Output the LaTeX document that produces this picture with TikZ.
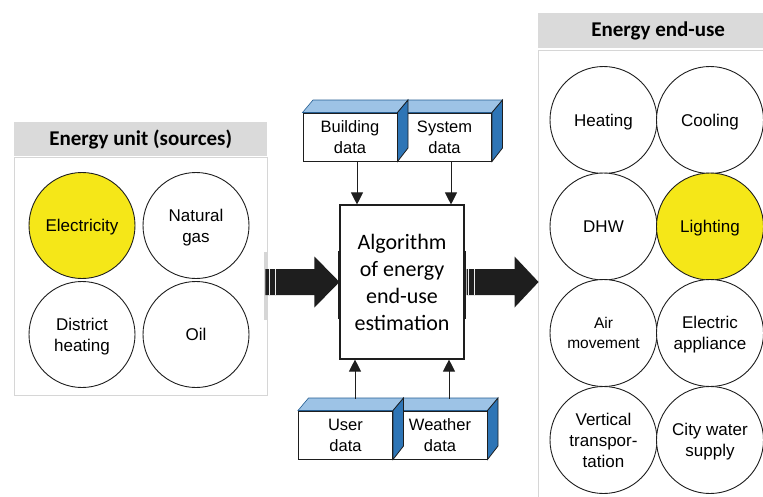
\documentclass[tikz,border=0pt]{standalone}
\usepackage{fontspec}
\setmainfont{Liberation Sans}
\newfontfamily\calib{Carlito}
\usetikzlibrary{arrows.meta,calc}
\definecolor{hdrgray}{RGB}{218,218,218}
\definecolor{rimgray}{RGB}{214,214,214}
\definecolor{hiyellow}{RGB}{245,231,24}
\definecolor{topblue}{RGB}{157,195,230}
\definecolor{sideblue}{RGB}{46,117,182}
\definecolor{inkblack}{RGB}{30,30,30}

% top and right faces of a 3-D data block
\newcommand\boxfaces[1]{%
  \filldraw[topface] (#1.north west) -- ++(10.5,-12.5) -- ($(#1.north east)+(10.5,-12.5)$) -- (#1.north east) -- cycle;
  \filldraw[sideface] (#1.north east) -- ++(10.5,-12.5) -- ++(0,48) -- (#1.south east) -- cycle;
}

\begin{document}
\begin{tikzpicture}[x=1pt,y=-1pt,
  unit/.style={circle,draw=inkblack,line width=0.9pt,fill=white,minimum size=106,inner sep=0pt,
    text depth=-1.5pt,align=center,font=\fontsize{17}{21}\selectfont},
  hot/.style={fill=hiyellow},
  hdr/.style={fill=hdrgray,anchor=north west,inner sep=0pt,font=\calib\bfseries\fontsize{21}{24}\selectfont},
  panel/.style={draw=rimgray,line width=1pt,fill=white,anchor=north west,inner sep=0pt},
  algbox/.style={draw=inkblack,line width=1.1pt,fill=white,minimum width=124,minimum height=154,
    align=center,inner sep=0pt,font=\calib\fontsize{22}{27}\selectfont},
  dbox/.style={draw=inkblack,line width=1pt,fill=white,minimum width=94,minimum height=48,inner sep=0pt,
    align=center,font=\fontsize{16.5}{21}\selectfont},
  topface/.style={fill=topblue,draw=sideblue!80!black,line width=0.6pt},
  sideface/.style={fill=sideblue,draw=inkblack,line width=0.8pt},
  arr/.style={draw=inkblack,line width=0.9pt,-{Triangle[length=12pt,width=12pt]}},
  fat/.style={fill=inkblack},
  stripe/.style={draw=white!85!gray,line width=1.2pt}
]
\useasboundingbox (0,0) rectangle (763,496);

% left panel: energy sources
\node[hdr,minimum width=253,minimum height=34] (srchdr) at (14,122) {Energy unit (sources)};
\node[panel,minimum width=253,minimum height=238] (srcpanel) at (14,157) {};
\node[unit,hot] (elec) at (82,225.5) {Electricity};
\node[unit] (gas) at (196,225.5) {Natural\\gas};
\node[unit] (dist) at (82,334.5) {District\\heating};
\node[unit] (oil) at (196,334.5) {Oil};

% right panel: end uses
\node[hdr,minimum width=240,minimum height=35] (usehdr) at (538,13) {Energy end-use};
\node[panel,minimum width=240,minimum height=460] (usepanel) at (538,50) {};
\node[unit,minimum size=107] (heat) at (603.5,120) {Heating};
\node[unit,minimum size=107] (cool) at (710,120) {Cooling};
\node[unit,minimum size=107] (dhw) at (603.5,226.5) {DHW};
\node[unit,minimum size=107,hot] (light) at (710,226.5) {Lighting};
\node[unit,minimum size=107,font=\fontsize{15.5}{20}\selectfont] (air) at (603.5,333) {Air\\movement};
\node[unit,minimum size=107] (appl) at (710,333) {Electric\\appliance};
\node[unit,minimum size=107] (vert) at (603.5,440) {Vertical\\transpor-\\tation};
\node[unit,minimum size=107] (water) at (710,440) {City water\\supply};

% central algorithm block
\node[algbox] (alg) at (402,282) {Algorithm\\of energy\\end-use\\estimation};
\draw[line width=3pt,inkblack] ($(alg.north west)+(0,47)$) -- ++(0,68);
\draw[line width=3pt,inkblack] ($(alg.north east)+(0,47)$) -- ++(0,68);

% fat flow arrows
\fill[rimgray] (264,252) rectangle (268,320);
\fill[fat] ($(alg.west)+(-74,-13)$) -- ($(alg.west)+(-25,-13)$) -- ($(alg.west)+(-25,-25.5)$) -- (alg.west)
  -- ($(alg.west)+(-25,25.5)$) -- ($(alg.west)+(-25,13)$) -- ($(alg.west)+(-74,13)$) -- cycle;
\draw[stripe] ($(alg.west)+(-70,-13)$) -- ++(0,26);
\draw[stripe] ($(alg.west)+(-64,-13)$) -- ++(0,26);
\fill[fat] ($(alg.east)+(2,-13)$) -- ($(alg.east)+(50,-13)$) -- ($(alg.east)+(50,-25.5)$) -- ($(alg.east)+(74,0)$)
  -- ($(alg.east)+(50,25.5)$) -- ($(alg.east)+(50,13)$) -- ($(alg.east)+(2,13)$) -- cycle;
\draw[stripe] ($(alg.east)+(4,-13)$) -- ++(0,26);
\draw[stripe] ($(alg.east)+(10,-13)$) -- ++(0,26);

% data blocks above
\node[dbox] (sys) at (444.5,137) {System\\data};
\boxfaces{sys}
\node[dbox] (bld) at (350,137) {Building\\data};
\boxfaces{bld}

% data blocks below
\node[dbox] (wth) at (440,435) {Weather\\data};
\boxfaces{wth}
\node[dbox] (usr) at (345.5,435) {User\\data};
\boxfaces{usr}

% inputs into the algorithm
\draw[arr] ([xshift=7pt]bld.south) -- ([xshift=7pt]bld.south |- alg.north);
\draw[arr] ([xshift=6.5pt]sys.south) -- ([xshift=6.5pt]sys.south |- alg.north);
\draw[arr] ([xshift=9.5pt,yshift=12pt]usr.north) -- ([xshift=9.5pt]usr.north |- alg.south);
\draw[arr] ([xshift=9pt,yshift=12pt]wth.north) -- ([xshift=9pt]wth.north |- alg.south);
\end{tikzpicture}
\end{document}
